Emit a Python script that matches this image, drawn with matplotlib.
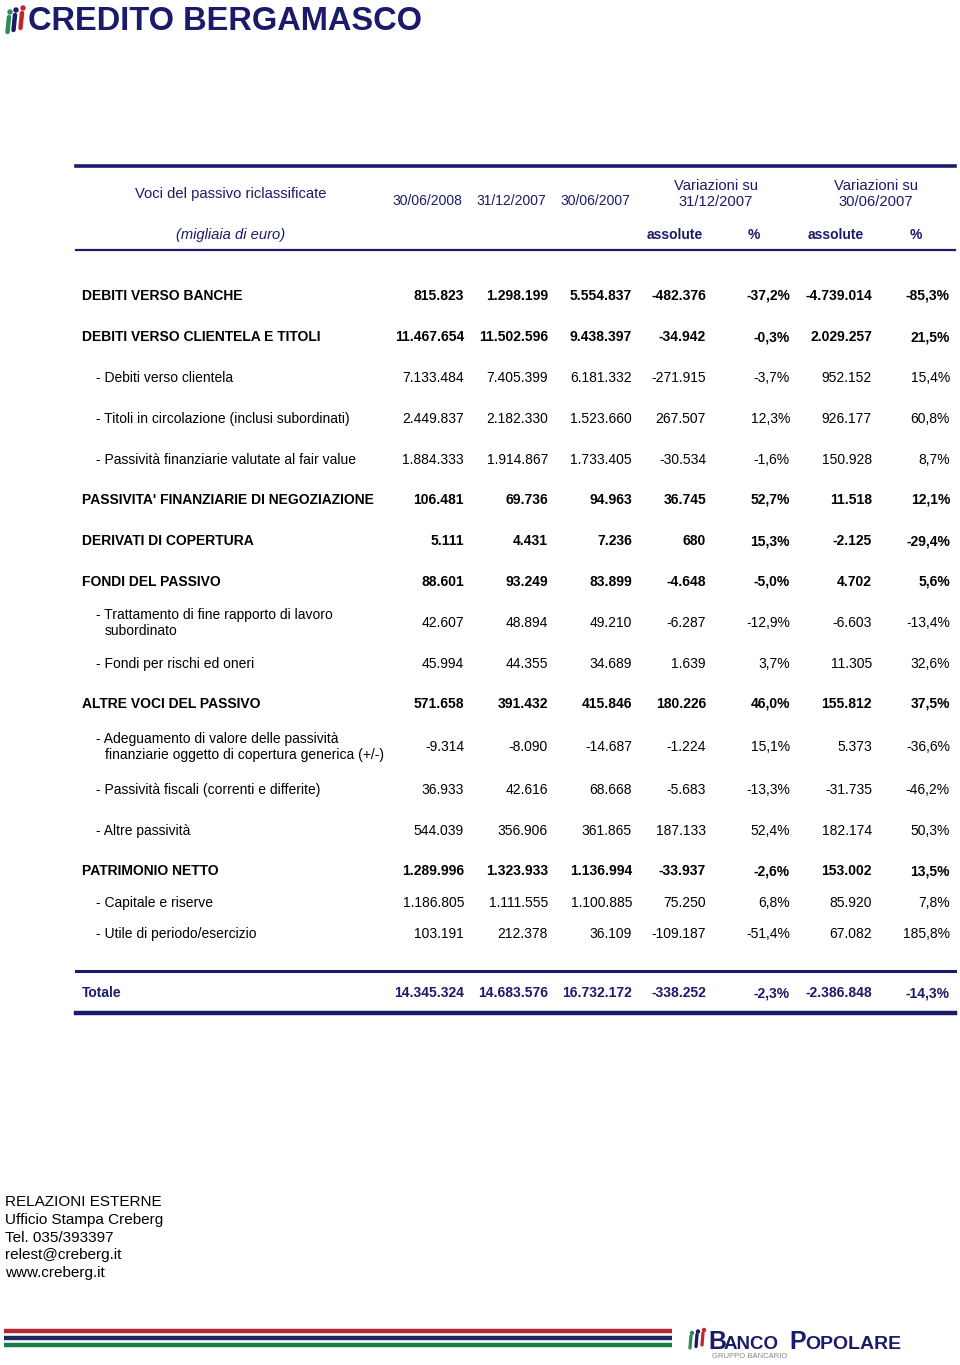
import matplotlib
matplotlib.use("Agg")
import matplotlib.pyplot as plt
from matplotlib.patches import Ellipse

plt.rcParams['font.family'] = ['Liberation Sans', 'DejaVu Sans']

NAVY = '#1b1b6b'

# column headers
date_cols = ['30/06/2008', '31/12/2007', '30/06/2007']
var_groups = [['Variazioni su', '31/12/2007'], ['Variazioni su', '30/06/2007']]
sub_cols = ['assolute', '%', 'assolute', '%']

# rows: label, style (main / sub), values
row_labels = [
    'DEBITI VERSO BANCHE',
    'DEBITI VERSO CLIENTELA E TITOLI',
    '- Debiti verso clientela',
    '- Titoli in circolazione (inclusi subordinati)',
    '- Passività finanziarie valutate al fair value',
    "PASSIVITA' FINANZIARIE DI NEGOZIAZIONE",
    'DERIVATI DI COPERTURA',
    'FONDI DEL PASSIVO',
    '- Trattamento di fine rapporto di lavoro\n  subordinato',
    '- Fondi per rischi ed oneri',
    'ALTRE VOCI DEL PASSIVO',
    '- Adeguamento di valore delle passività\n  finanziarie oggetto di copertura generica (+/-)',
    '- Passività fiscali (correnti e differite)',
    '- Altre passività',
    'PATRIMONIO NETTO',
    '- Capitale e riserve',
    '- Utile di periodo/esercizio',
]
row_main = [True, True, False, False, False, True, True, True, False, False,
            True, False, False, False, True, False, False]

val_0608 = ['815.823', '11.467.654', '7.133.484', '2.449.837', '1.884.333', '106.481', '5.111',
            '88.601', '42.607', '45.994', '571.658', '-9.314', '36.933', '544.039',
            '1.289.996', '1.186.805', '103.191']
val_1207 = ['1.298.199', '11.502.596', '7.405.399', '2.182.330', '1.914.867', '69.736', '4.431',
            '93.249', '48.894', '44.355', '391.432', '-8.090', '42.616', '356.906',
            '1.323.933', '1.111.555', '212.378']
val_0607 = ['5.554.837', '9.438.397', '6.181.332', '1.523.660', '1.733.405', '94.963', '7.236',
            '83.899', '49.210', '34.689', '415.846', '-14.687', '68.668', '361.865',
            '1.136.994', '1.100.885', '36.109']
abs_1207 = ['-482.376', '-34.942', '-271.915', '267.507', '-30.534', '36.745', '680',
            '-4.648', '-6.287', '1.639', '180.226', '-1.224', '-5.683', '187.133',
            '-33.937', '75.250', '-109.187']
pct_1207 = ['-37,2%', '-0,3%', '-3,7%', '12,3%', '-1,6%', '52,7%', '15,3%',
            '-5,0%', '-12,9%', '3,7%', '46,0%', '15,1%', '-13,3%', '52,4%',
            '-2,6%', '6,8%', '-51,4%']
abs_0607 = ['-4.739.014', '2.029.257', '952.152', '926.177', '150.928', '11.518', '-2.125',
            '4.702', '-6.603', '11.305', '155.812', '5.373', '-31.735', '182.174',
            '153.002', '85.920', '67.082']
pct_0607 = ['-85,3%', '21,5%', '15,4%', '60,8%', '8,7%', '12,1%', '-29,4%',
            '5,6%', '-13,4%', '32,6%', '37,5%', '-36,6%', '-46,2%', '50,3%',
            '13,5%', '7,8%', '185,8%']

total_label = 'Totale'
total_vals = ['14.345.324', '14.683.576', '16.732.172', '-338.252', '-2,3%', '-2.386.848', '-14,3%']

contacts = ['RELAZIONI ESTERNE', 'Ufficio Stampa Creberg', 'Tel. 035/393397',
            'relest@creberg.it', 'www.creberg.it']

# layout (pixels)
row_y = [295, 336, 377, 418, 459, 499, 540, 581, 622, 663, 703, 746, 789, 830, 870, 902, 933]
col_right = [464, 548, 632, 706, 790, 872, 950]
BL = 5  # baseline offset from row centre


def put(x, y, s, **kw):
    # single line text placed by its baseline so commas do not shift it
    ax.text(x, y + BL, s, va='baseline', **kw)


fig = plt.figure(figsize=(9.6, 13.65), dpi=100)
ax = fig.add_axes([0, 0, 1, 1])
ax.set_xlim(0, 960)
ax.set_ylim(1365, 0)
ax.axis('off')

# top logo
for i, (cx, col) in enumerate(zip([9, 15, 22], ['#2e8b57', '#1b1b6b', '#c0282d'])):
    ax.add_patch(Ellipse((cx + 1, 12 - i * 2), 4, 4, color=col))
    ax.plot([cx, cx - 1.5], [17 - i * 2, 32 - i * 2], color=col, lw=3.2, solid_capstyle='round')
ax.text(28, 30, 'CREDITO BERGAMASCO', fontsize=23.5, fontweight='bold', color=NAVY,
        va='baseline', ha='left')

# header
ax.plot([76, 955], [166, 166], color=NAVY, lw=2.6)
put(231, 193, 'Voci del passivo riclassificate', fontsize=10.6, color=NAVY, ha='center')
for lbl, cx in zip(date_cols, [427, 511, 595]):
    put(cx, 200, lbl, fontsize=10, color=NAVY, ha='center')
for lines, cx in zip(var_groups, [716, 876]):
    put(cx, 185, lines[0], fontsize=10.6, color=NAVY, ha='center')
    put(cx, 201, lines[1], fontsize=10.6, color=NAVY, ha='center')
put(231, 234, '(migliaia di euro)', fontsize=10.6, color=NAVY, style='italic', ha='center')
for lbl, cx in zip(sub_cols, [675, 754, 836, 916]):
    put(cx, 234, lbl, fontsize=10, color=NAVY, fontweight='bold', ha='center')
ax.plot([76, 955], [250, 250], color=NAVY, lw=1.6)

# body
cols = [val_0608, val_1207, val_0607, abs_1207, pct_1207, abs_0607, pct_0607]
for i, lbl in enumerate(row_labels):
    y = row_y[i]
    main = row_main[i]
    w = 'bold' if main else 'normal'
    x0 = 82 if main else 96
    parts = lbl.split('\n')
    if len(parts) == 1:
        put(x0, y, lbl, fontsize=10, fontweight=w, color='black', ha='left')
    else:
        put(x0, y - 8, parts[0], fontsize=10, fontweight=w, color='black', ha='left')
        put(x0 + 9, y + 8, parts[1].strip(), fontsize=10, fontweight=w, color='black',
            ha='left')
    for c, xr in zip(cols, col_right):
        put(xr, y, c[i], fontsize=10, fontweight=w, color='black', ha='right')

# total
ax.plot([76, 955], [971, 971], color=NAVY, lw=2.2)
put(82, 992, total_label, fontsize=10, fontweight='bold', color=NAVY, ha='left')
for v, xr in zip(total_vals, col_right):
    put(xr, 992, v, fontsize=10, fontweight='bold', color=NAVY, ha='right')
ax.plot([76, 955], [1013, 1013], color=NAVY, lw=3.2)

# contacts
for i, line in enumerate(contacts):
    put(5, 1201 + i * 17.8, line, fontsize=11, color='black', ha='left')

# bottom stripes
for y, col in zip([1331, 1338, 1345], ['#b3272d', '#1b2a5e', '#1f7a4a']):
    ax.plot([4, 672], [y, y], color=col, lw=3.2, solid_capstyle='butt')

# bottom logo
for i, (cx, col) in enumerate(zip([691, 697, 703], ['#2e8b57', '#1b1b6b', '#c0282d'])):
    ax.add_patch(Ellipse((cx + 1, 1333 - i * 1.5), 3, 3, color=col))
    ax.plot([cx, cx - 1], [1336 - i * 1.5, 1348 - i * 1.5], color=col, lw=2.4,
            solid_capstyle='round')
ax.text(708, 1349, 'B', fontsize=18, fontweight='bold', color=NAVY, ha='left', va='baseline')
ax.text(724, 1349, 'ANCO', fontsize=13.5, fontweight='bold', color=NAVY, ha='left', va='baseline')
ax.text(789, 1349, 'P', fontsize=18, fontweight='bold', color=NAVY, ha='left', va='baseline')
ax.text(805, 1349, 'OPOLARE', fontsize=14, fontweight='bold', color=NAVY, ha='left',
        va='baseline')
ax.text(712, 1357, 'GRUPPO BANCARIO', fontsize=5.5, color='#888888', ha='left', va='center')

fig.savefig('out.png', dpi=100)
